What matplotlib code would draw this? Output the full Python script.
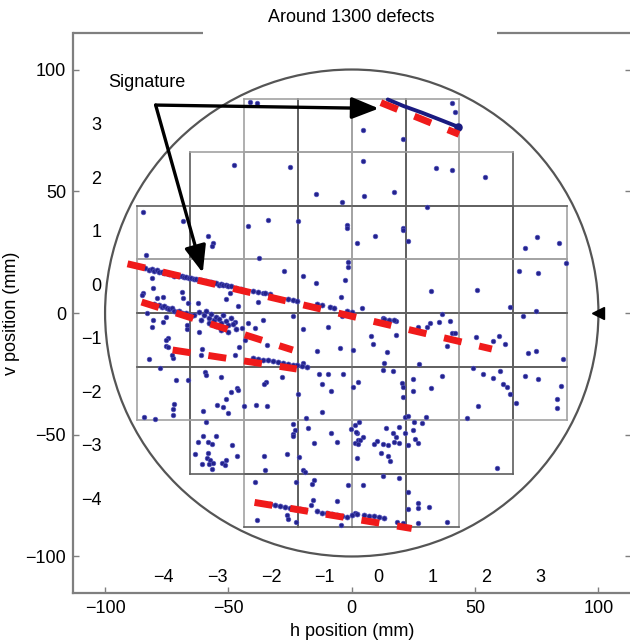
import matplotlib
matplotlib.use("Agg")
import matplotlib.pyplot as plt
from matplotlib.patches import Circle

# die map: row index, first and last die column in that row
die_rows = [3, 2, 1, 0, -1, -2, -3, -4]
die_first_col = [-2, -3, -4, -4, -4, -4, -3, -2]
die_last_col = [1, 2, 3, 3, 3, 3, 2, 1]
row_labels = ['3', '2', '1', '0', '\u22121', '\u22122', '\u22123', '\u22124']
col_index = [-4, -3, -2, -1, 0, 1, 2, 3]
col_labels = ['\u22124', '\u22123', '\u22122', '\u22121', '0', '1', '2', '3']
# die boundaries drawn darker (reticle edges), as boundary index
dark_cols = [-3, -1, 1, 3]
dark_rows = [2, 0, -1, -3, -4]
die_w = 21.8
die_h = 22.0
wafer_radius = 100

# isolated defects (h, v) in mm
defects_top = [
    (-41.4, 86.8), (-38.6, 86.4), (-47.9, 60.9), (-25.2, 60.1), (-14.6, 49.0),
    (-4.1, 45.7), (-84.8, 41.6), (-68.6, 37.9), (-42.2, 35.8), (-34.1, 38.3),
    (-21.9, 37.9), (-2.0, 36.2), (-2.0, 35.0), (40.6, 86.4), (41.8, 82.7),
    (4.5, 75.3), (20.7, 71.6), (4.5, 62.5), (34.1, 59.7), (40.6, 58.8),
    (54.0, 56.0), (4.9, 48.1), (17.0, 49.8), (30.4, 43.6), (20.7, 35.0),
    (-58.4, 31.7), (-56.4, 28.8), (-56.8, 27.6), (-83.6, 23.9), (-37.7, 22.6),
    (9.3, 31.7), (2.0, 28.8), (20.7, 34.2), (22.7, 29.6), (70.2, 26.7),
    (75.1, 31.3), (84.0, 28.8), (86.8, 20.6), (-1.6, 21.0), (-1.6, 18.9),
]
defects_mid = [
    (-27.6, 17.3), (-19.9, 15.2), (-14.6, 12.3), (-2.8, 13.6), (-81.1, 14.4),
    (-84.8, 8.2), (-80.7, 10.3), (-79.1, 6.2), (-76.7, 6.6), (-69.0, 8.6),
    (-68.6, 6.2), (-66.5, 4.1), (-62.5, 4.1), (-51.1, 5.8), (-49.5, 8.2),
    (-46.3, 2.9), (-38.1, 4.5), (-36.1, 8.2), (-23.9, -1.2), (-19.9, -6.6),
    (-9.7, -5.8), (-4.1, -1.2), (-4.5, 6.6), (67.8, 17.3), (75.5, 16.5),
    (32.0, 9.1), (50.7, 9.5), (64.1, 2.5), (74.6, 0.8), (69.4, -1.2),
    (4.1, 2.1), (-0.8, -1.2), (12.6, -2.1), (15.0, -3.3), (17.9, -3.3),
    (-66.9, -6.6), (-62.1, -7.8), (-47.5, -3.7), (-44.6, -6.2), (-42.2, -4.1),
    (-39.4, -6.2), (-36.1, -2.9), (-43.4, -11.1), (-74.6, -10.3), (-75.1, -13.6),
    (-72.6, -18.5), (-82.0, -18.9), (-60.9, -14.8), (-61.3, -17.3), (-47.5, -17.3),
    (-45.8, -14.0), (-34.5, -13.2), (-19.9, -20.6), (-14.2, -15.6), (-4.9, -14.4),
    (-85.2, 7.4), (-82.8, 0.0), (-80.7, -2.9), (-81.1, -5.8), (-76.7, -3.7),
    (-75.1, -1.6), (-66.9, -4.9), (-75.1, -11.1), (-74.6, -14.0), (-73.0, -17.3),
    (26.8, -5.8), (30.4, -5.8), (31.6, -4.1), (35.3, -3.7), (36.5, -0.4),
    (39.8, -3.3), (40.6, -8.2), (41.8, -8.2), (38.5, -13.6), (50.3, -9.9),
    (57.2, -11.5), (59.6, -9.5), (62.1, -12.8), (7.7, -9.5), (8.5, -12.8),
    (17.9, -9.1), (14.2, -16.0), (0.4, -15.2), (13.0, -20.6), (27.2, -21.0),
    (71.4, -16.5), (74.6, -15.6), (85.6, -18.9),
]
defects_low = [
    (-77.9, -22.6), (-66.5, -27.6), (-59.6, -24.3), (-59.2, -25.5), (-53.1, -26.3),
    (-46.7, -30.9), (-34.9, -28.4), (-35.7, -29.2), (-28.4, -26.3), (-13.4, -25.1),
    (-9.7, -25.1), (-3.7, -25.1), (-12.2, -29.2), (0.4, -30.5), (-71.4, -27.6),
    (12.6, -23.5), (16.6, -23.9), (49.1, -22.6), (53.1, -25.1), (57.2, -26.7),
    (60.0, -23.9), (61.3, -29.2), (62.9, -30.5), (70.2, -25.9), (75.5, -27.2),
    (84.8, -30.0), (36.5, -25.9), (24.7, -27.2), (32.0, -30.9), (20.3, -28.8),
    (20.7, -30.5), (2.4, -28.4), (-49.1, -32.5), (-46.3, -31.7), (-51.1, -35.4),
    (-54.8, -37.9), (-52.3, -38.7), (-50.3, -41.2), (-60.5, -40.3), (-43.8, -38.3),
    (-38.9, -37.9), (-34.5, -38.3), (-21.9, -33.3), (-8.5, -32.1), (-72.2, -37.4),
    (-72.6, -39.5), (-72.6, -42.0), (-84.4, -42.8), (-79.9, -43.6), (20.7, -34.6),
    (24.7, -32.1), (64.1, -33.3), (66.5, -37.0), (51.1, -38.3), (83.2, -35.4),
    (83.2, -39.1), (46.7, -43.2), (30.0, -42.8), (21.5, -42.8), (22.7, -42.4),
    (-12.2, -40.7), (-18.7, -43.2),
]
defects_bottom = [
    (-59.2, -44.9), (-60.5, -50.6), (-62.5, -53.1), (-55.2, -50.6), (-58.4, -53.1),
    (-56.8, -53.9), (-63.7, -58.0), (-58.4, -57.6), (-58.8, -59.7), (-57.6, -60.5),
    (-58.0, -62.1), (-56.4, -61.7), (-56.8, -64.2), (-60.9, -62.1), (-52.7, -61.7),
    (-51.1, -60.5), (-51.5, -62.5), (-48.7, -54.3), (-46.7, -58.8), (-35.7, -58.8),
    (-35.3, -64.6), (-26.4, -58.0), (-23.9, -45.7), (-23.1, -48.1), (-23.9, -49.8),
    (-23.9, -50.6), (-21.5, -59.3), (-19.9, -64.6), (-19.1, -65.4), (-17.9, -47.3),
    (-15.4, -53.5), (-8.5, -49.4), (-6.1, -53.1), (-0.4, -47.7), (1.2, -46.1),
    (2.0, -49.4), (2.4, -52.3), (2.0, -59.7), (25.2, -44.9), (28.4, -45.3),
    (2.8, -44.9), (1.6, -49.0), (13.8, -47.3), (19.1, -46.9), (24.7, -48.1),
    (16.6, -49.4), (17.9, -51.0), (17.0, -53.1), (19.1, -53.5), (21.5, -49.4),
    (4.5, -51.0), (3.2, -52.3), (1.2, -53.5), (2.4, -53.9), (10.1, -52.7),
    (8.9, -53.9), (12.6, -53.9), (14.6, -54.3), (22.7, -54.3), (25.6, -51.8),
    (26.8, -53.5), (11.8, -57.6), (14.6, -58.8), (15.4, -60.9), (58.8, -63.8),
    (-39.4, -69.5), (-22.7, -69.5), (-15.4, -68.7), (-16.2, -70.4), (-1.6, -70.8),
    (-15.8, -77.0), (-16.6, -79.0), (-6.1, -77.4), (-38.5, -85.2), (-26.4, -83.1),
    (-26.0, -84.8), (-22.7, -86.0), (-4.5, -87.2), (12.6, -67.1), (19.1, -67.9),
    (4.5, -70.8), (22.7, -73.7), (26.8, -78.2), (31.2, -79.8), (26.8, -80.2),
    (22.7, -80.6), (38.5, -86.0), (26.8, -86.4), (18.3, -86.0), (20.7, -86.4),
    (1.2, -82.3),
]

# dense defect streaks that form the signatures
streak_main = [
    (-84, 18.3), (-82, 17.6), (-81, 18.0), (-80, 17.2), (-79, 17.5), (-78, 16.8),
    (-77, 17.0), (-76, 16.3), (-75, 16.6), (-74, 15.9), (-73, 16.1), (-72, 15.4),
    (-71, 15.7), (-70, 15.0), (-69, 15.3), (-68, 14.6), (-67, 14.8), (-66, 14.2),
    (-65, 14.4), (-64, 13.9), (-63, 14.1), (-62, 13.5), (-61, 13.6), (-60, 13.0),
    (-59, 13.3), (-58, 12.6), (-57, 12.8), (-56, 12.2), (-55, 12.4), (-54, 11.7),
    (-53, 11.9), (-52, 11.3), (-51, 11.5), (-50, 10.9), (-49, 11.1), (-47, 10.2),
    (-45, 9.9), (-40, 9.0), (-38, 8.6), (-35, 8.3), (-33, 7.9), (-26, 5.9),
    (-24, 5.5), (-22, 5.0), (-14, 3.6), (-12, 3.2), (-9, 2.6), (-7, 2.2),
    (-2, 1.0), (0, 0.4), (13, -2.3), (15, -2.8), (17, -3.0),
]
streak_second = [
    (-80, 3.5), (-78, 3.2), (-77, 2.5), (-76, 2.9), (-75, 2.0), (-74, 1.6),
    (-73, 1.9), (-72, 1.0), (-71, 0.6), (-70, 0.9), (-69, 0.2), (-68, -0.3),
    (-67, 0.0), (-66, -0.8), (-65, -1.2), (-64, -0.9), (-62, 0.5), (-60, -1.0),
    (-59, 0.8), (-58, -2.0), (-57, -0.5), (-56, -3.0), (-55, -1.5), (-54, -2.5),
    (-53, -4.0), (-52, -1.0), (-51, -3.2), (-50, -5.0), (-49, -2.2), (-48, -4.5),
    (-47, -6.5), (-55, -5.5), (-58, -4.2), (-61, -3.0), (-53, -6.8), (-50, -8.0),
]
streak_third = [
    (-40, -18.6), (-38, -19.0), (-36, -19.3), (-34, -19.5), (-32, -19.9),
    (-30, -20.2), (-28, -20.5), (-26, -20.9), (-24, -21.2), (-22, -21.5),
    (-20, -21.7), (-18, -22.0),
]
streak_bottom = [
    (-33, -78.6), (-31, -79.0), (-29, -79.2), (-27, -79.6), (-25, -79.9),
    (-23, -80.3), (-21, -80.6), (-19, -81.0), (-14, -81.5), (-12, -82.0),
    (-10, -82.3), (-8, -82.7), (-6, -83.0), (-4, -83.4), (-2, -83.6),
    (0, -83.0), (2, -82.6), (5, -82.8), (7, -83.2), (9, -83.4),
    (11, -83.7), (13, -84.0),
]
# continuous streak along the top edge
streak_top_x = [14.6, 21.0, 28.4, 36.0, 43.0]
streak_top_y = [87.7, 85.0, 82.3, 79.3, 76.5]

# fitted signature lines: start and end
sig_x0 = [-90.9, -85.2, -72.6, -39.4, 11.8]
sig_y0 = [20.2, 4.5, -15.2, -77.8, 86.4]
sig_x1 = [56.8, -23.9, -22.3, 24.3, 43.5]
sig_y1 = [-14.8, -15.2, -23.0, -88.5, 73.4]

# annotation
label_xy = (-98.6, 94.5)
arrow_origin = (-79.5, 85.4)
arrow_tips = [(11.0, 84.0), (-60.4, 16.5)]

FONT = 'Liberation Sans'
DOT = '#23238c'
RED = '#f01a1a'
GREY = '#7f7f7f'


def draw_dies(ax):
    """draw every die edge, reticle edges darker"""
    for row, c0, c1 in zip(die_rows, die_first_col, die_last_col):
        for col in range(c0, c1 + 1):
            x0, x1 = col * die_w, (col + 1) * die_w
            y0, y1 = row * die_h, (row + 1) * die_h
            for b, x in ((col, x0), (col + 1, x1)):
                clr = '#5e5e5e' if b in dark_cols else '#a2a2a2'
                ax.plot([x, x], [y0, y1], color=clr, lw=1.2, zorder=1)
            for b, y in ((row, y0), (row + 1, y1)):
                clr = '#5e5e5e' if b in dark_rows else '#a2a2a2'
                ax.plot([x0, x1], [y, y], color=clr, lw=1.2, zorder=1)


def scatter_pts(ax, pts, size=11):
    xs = [p[0] for p in pts]
    ys = [p[1] for p in pts]
    ax.scatter(xs, ys, s=size, c=DOT, edgecolors='#5050bb',
               linewidths=0.5, zorder=3)


def main():
    plt.rcParams['font.family'] = [FONT, 'DejaVu Sans']
    fig = plt.figure(figsize=(6.3, 6.42), dpi=100)
    ax = fig.add_axes([73 / 630, 49 / 642, 557.5 / 630, 560 / 642])
    ax.set_xlim(-113, 113)
    ax.set_ylim(-115, 115)

    draw_dies(ax)
    ax.add_patch(Circle((0, 0), wafer_radius, fill=False, ec='#555555',
                        lw=1.6, zorder=2))
    ax.plot([wafer_radius], [0], marker='<', color='black', ms=8, zorder=5)

    for pts in (defects_top, defects_mid, defects_low, defects_bottom):
        scatter_pts(ax, pts)
    for pts in (streak_main, streak_second, streak_third, streak_bottom):
        scatter_pts(ax, pts, size=13)
    ax.plot(streak_top_x, streak_top_y, color='#1a1a80', lw=2.8,
            solid_capstyle='round', zorder=3)
    ax.scatter([streak_top_x[-1]], [streak_top_y[-1]], s=26, c='#1a1a80',
               zorder=3)

    for x0, y0, x1, y1 in zip(sig_x0, sig_y0, sig_x1, sig_y1):
        ax.plot([x0, x1], [y0, y1], color=RED, lw=5, dashes=(2.6, 2.6),
                dash_capstyle='butt', zorder=4)

    ax.text(label_xy[0], label_xy[1], 'Signature', fontsize=13,
            ha='left', va='center')
    for tip in arrow_tips:
        ax.annotate('', xy=tip, xytext=arrow_origin,
                    arrowprops=dict(arrowstyle='-|>,head_length=0.75,'
                                               'head_width=0.3',
                                    color='black', lw=2.4,
                                    mutation_scale=22,
                                    shrinkA=0, shrinkB=0),
                    zorder=6)

    # die row and column indices
    for row, lab in zip(die_rows, row_labels):
        ax.text(-101.5, (row + 0.5) * die_h, lab, fontsize=13,
                ha='right', va='center')
    for col, lab in zip(col_index, col_labels):
        ax.text((col + 0.5) * die_w, -108.7, lab, fontsize=13,
                ha='center', va='center')

    # frame: gap in the top edge for the title
    for side in ('top', 'right'):
        ax.spines[side].set_visible(False)
    for side in ('left', 'bottom'):
        ax.spines[side].set_color(GREY)
        ax.spines[side].set_linewidth(1.6)
    ax.plot([0, 0.233], [1, 1], transform=ax.transAxes, color=GREY,
            lw=1.6, clip_on=False, solid_capstyle='butt')
    ax.plot([0.761, 1.0], [1, 1], transform=ax.transAxes, color=GREY,
            lw=1.6, clip_on=False, solid_capstyle='butt')
    ax.text(0.5, 1.027, 'Around 1300 defects', transform=ax.transAxes,
            fontsize=13, ha='center', va='center')

    ax.set_xticks([-100, -50, 0, 50, 100])
    ax.set_yticks([-100, -50, 0, 50, 100])
    ax.tick_params(direction='in', length=4, width=1, color=GREY,
                   labelsize=13, right=True, pad=5)
    ax.set_xlabel('h position (mm)', fontsize=13)
    ax.set_ylabel('v position (mm)', fontsize=13)
    ax.xaxis.set_label_coords(0.5, -0.053)
    ax.yaxis.set_label_coords(-0.095, 0.5)

    fig.savefig('out.png', dpi=100)


if __name__ == "__main__":
    main()
